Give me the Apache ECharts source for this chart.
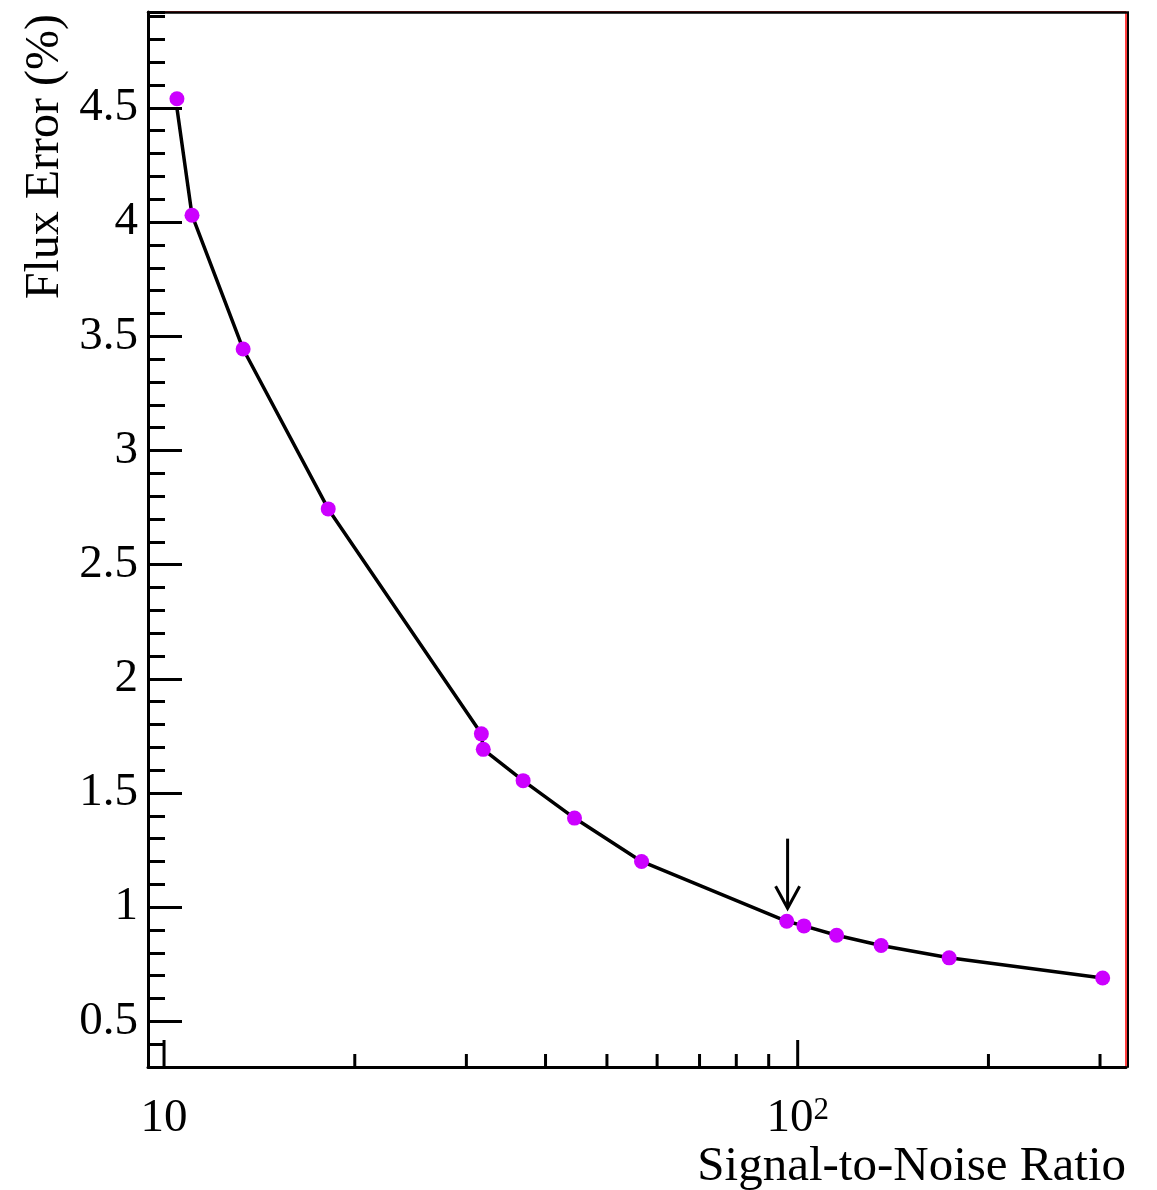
<!DOCTYPE html>
<html>
<head>
<meta charset="utf-8">
<script src="https://cdn.jsdelivr.net/npm/echarts@6/dist/echarts.min.js"></script>
<style>
html,body{margin:0;padding:0;background:#fff;}
#chart{width:1157px;height:1190px;}
</style>
</head>
<body>
<div id="chart"></div>
<script>
// ---- data ----
const snr = [10.48, 11.07, 13.33, 18.16, 31.68, 31.9, 36.87, 44.44, 56.7, 96.1, 102.3, 115.2, 135.4, 173.4, 302.9];
const fluxError = [4.54, 4.03, 3.444, 2.744, 1.759, 1.691, 1.554, 1.390, 1.200, 0.938, 0.918, 0.877, 0.832, 0.778, 0.690];
const curveFlux = [4.50, 4.03, 3.444, 2.744, 1.759, 1.691, 1.554, 1.390, 1.200, 0.938, 0.918, 0.877, 0.832, 0.778, 0.690];
const xMajorTicks = [10, 100];
const xMinorTicks = [20, 30, 40, 50, 60, 70, 80, 90, 200, 300];
const yMajorTicks = [0.5, 1, 1.5, 2, 2.5, 3, 3.5, 4, 4.5];
const arrowMark = [96.4, 1.30, 0.995]; // x, y from, y to
const xRange = [9.434, 329.7];
const yRange = [0.3, 4.92];

const FONT = 'Liberation Serif';
const chart = echarts.init(document.getElementById('chart'), null, {renderer: 'canvas'});

const tickData = [];
xMajorTicks.forEach(v => tickData.push([v, 27]));
xMinorTicks.forEach(v => tickData.push([v, 13]));

const option = {
  backgroundColor: '#fff',
  animation: false,
  grid: {left: 148, right: 31, top: 12, bottom: 123, show: true, borderColor: '#ff0000', borderWidth: 1.5, backgroundColor: 'transparent'},
  xAxis: [{
    type: 'log', logBase: 10, min: xRange[0], max: xRange[1], position: 'bottom',
    axisLine: {show: true, lineStyle: {color: '#000', width: 3}},
    axisTick: {show: false}, splitLine: {show: false}, minorTick: {show: false},
    axisLabel: {
      margin: 28, color: '#000', fontFamily: FONT, fontSize: 47,
      showMinLabel: false, showMaxLabel: false,
      formatter: function (v) {
        const e = Math.log10(v);
        if (Math.abs(e - Math.round(e)) > 1e-6) return '';
        const n = Math.round(e);
        return n === 1 ? '{b|10}' : '{b|10}{s|' + n + '}';
      },
      rich: {
        b: {fontFamily: FONT, fontSize: 47, color: '#000'},
        s: {fontFamily: FONT, fontSize: 31, color: '#000', verticalAlign: 'top'}
      }
    }
  }, {
    type: 'log', logBase: 10, min: xRange[0], max: xRange[1], position: 'top',
    axisLine: {show: true, lineStyle: {color: '#000', width: 2.5}},
    axisTick: {show: false}, axisLabel: {show: false}, splitLine: {show: false}
  }],
  yAxis: [{
    type: 'value', min: yRange[0], max: yRange[1], position: 'left',
    axisLine: {show: true, lineStyle: {color: '#000', width: 3}},
    axisTick: {show: true, inside: true, length: 34, lineStyle: {color: '#000', width: 3}, customValues: yMajorTicks},
    axisLabel: {show: true, customValues: yMajorTicks, margin: 10, color: '#000', fontFamily: FONT, fontSize: 47,
      formatter: v => String(+v.toFixed(2))},
    splitLine: {show: false}
  }, {
    type: 'value', min: yRange[0], max: yRange[1], interval: 0.1, position: 'left',
    axisLine: {show: false},
    axisTick: {show: true, inside: true, length: 17, lineStyle: {color: '#000', width: 3}},
    axisLabel: {show: false}, splitLine: {show: false}
  }, {
    type: 'value', min: yRange[0], max: yRange[1], position: 'right', offset: 1.5,
    axisLine: {show: true, lineStyle: {color: '#000', width: 2}},
    axisTick: {show: false}, axisLabel: {show: false}, splitLine: {show: false}
  }],
  series: [{
    type: 'line', name: 'curve', xAxisIndex: 0, yAxisIndex: 0,
    data: snr.map((x, i) => [x, curveFlux[i]]),
    showSymbol: false, symbol: 'none',
    lineStyle: {color: '#000', width: 3.5}, z: 3
  }, {
    type: 'scatter', name: 'points', xAxisIndex: 0, yAxisIndex: 0,
    data: snr.map((x, i) => [x, fluxError[i]]),
    symbol: 'circle', symbolSize: 15,
    itemStyle: {color: '#cc00ff', opacity: 1}, z: 4
  }, {
    type: 'custom', name: 'xticks', xAxisIndex: 0, yAxisIndex: 0, clip: false, z: 5,
    data: tickData,
    renderItem: function (params, api) {
      const p = api.coord([api.value(0), yRange[0]]);
      const len = api.value(1);
      return {type: 'line', shape: {x1: p[0], y1: p[1], x2: p[0], y2: p[1] - len},
        style: {stroke: '#000', lineWidth: 3}};
    }
  }, {
    type: 'custom', name: 'arrow', xAxisIndex: 0, yAxisIndex: 0, clip: false, z: 6,
    data: [arrowMark],
    renderItem: function (params, api) {
      const a = api.coord([api.value(0), api.value(1)]);
      const b = api.coord([api.value(0), api.value(2)]);
      return {type: 'group', children: [
        {type: 'line', shape: {x1: a[0], y1: a[1], x2: b[0], y2: b[1]}, style: {stroke: '#000', lineWidth: 3}},
        {type: 'polyline', shape: {points: [[b[0] - 12, b[1] - 22], [b[0], b[1]], [b[0] + 12, b[1] - 22]]},
          style: {stroke: '#000', lineWidth: 3, fill: null}}
      ]};
    }
  }],
  graphic: [{
    type: 'text', x: 1126, y: 1167,
    style: {text: 'Signal-to-Noise Ratio', fontFamily: FONT, fontSize: 49, fill: '#000', align: 'right', verticalAlign: 'middle'}
  }, {
    type: 'text', x: 45, y: 14, rotation: Math.PI / 2,
    style: {text: 'Flux Error (%)', fontFamily: FONT, fontSize: 48, fill: '#000', align: 'right', verticalAlign: 'middle'}
  }]
};
chart.setOption(option);
</script>
</body>
</html>
